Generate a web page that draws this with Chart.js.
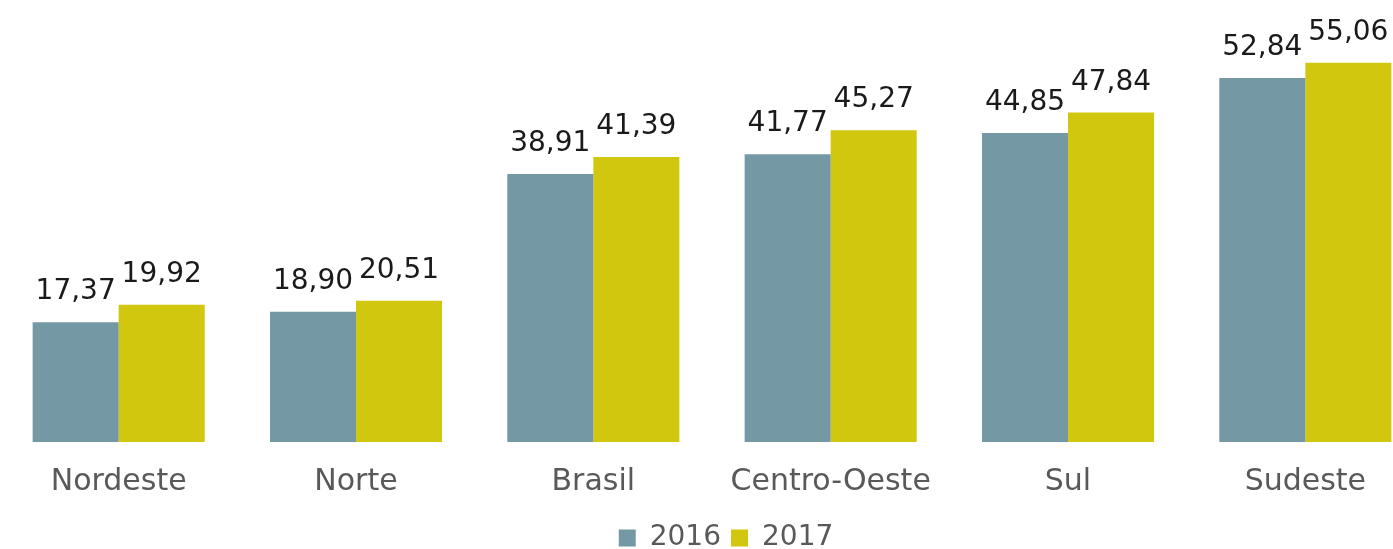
<!DOCTYPE html>
<html><head><meta charset="utf-8">
<script src="https://cdn.jsdelivr.net/npm/chart.js@4/dist/chart.umd.min.js"></script>
<style>
html,body{margin:0;padding:0;background:#fff;overflow:hidden;width:1393px;height:549px}
#wrap{position:absolute;left:0;top:0;width:1448px;height:562px}
</style></head><body>
<div id="wrap"><canvas id="c" width="1448" height="562"></canvas></div>
<script>
const categories = ["Nordeste","Norte","Brasil","Centro-Oeste","Sul","Sudeste"];
const values2016 = [17.37,18.90,38.91,41.77,44.85,52.84];
const values2017 = [19.92,20.51,41.39,45.27,47.84,55.06];
const seriesNames = ["2016","2017"];
const FONT = "'DejaVu Sans', sans-serif";

const valueLabels = {
  id:'valueLabels',
  afterDatasetsDraw(chart){
    const ctx = chart.ctx;
    ctx.save();
    ctx.font = "28px " + FONT;
    ctx.fillStyle = "#1a1a1a";
    ctx.textAlign = "center";
    ctx.textBaseline = "alphabetic";
    chart.data.datasets.forEach((ds,i)=>{
      chart.getDatasetMeta(i).data.forEach((bar,j)=>{
        const txt = ds.data[j].toFixed(2).replace('.',',');
        ctx.fillText(txt, bar.x, bar.y - 23);
      });
    });
    ctx.restore();
  }
};

const legendShift = {
  id:'legendShift',
  afterLayout(chart){
    if (chart.legend) { chart.legend.left += 14; chart.legend.right += 14; }
  }
};

new Chart(document.getElementById('c'), {
  type:'bar',
  data:{
    labels: categories,
    datasets:[
      {label:seriesNames[0], data:values2016, backgroundColor:'#7599a4'},
      {label:seriesNames[1], data:values2017, backgroundColor:'#d0c70e'}
    ]
  },
  options:{
    responsive:false,
    animation:false,
    devicePixelRatio:1,
    layout:{padding:{left:0,right:24,top:15,bottom:0}},
    datasets:{bar:{categoryPercentage:0.725,barPercentage:1,borderWidth:0}},
    scales:{
      x:{grid:{display:false},border:{display:false},
         ticks:{color:'#595959',font:{family:FONT,size:30},padding:14}},
      y:{display:false,min:0,max:62}
    },
    plugins:{
      legend:{position:'bottom',
        labels:{color:'#595959',font:{family:FONT,size:28},boxWidth:17,boxHeight:17,padding:10}},
      tooltip:{enabled:false}
    }
  },
  plugins:[valueLabels, legendShift]
});
</script></body></html>
